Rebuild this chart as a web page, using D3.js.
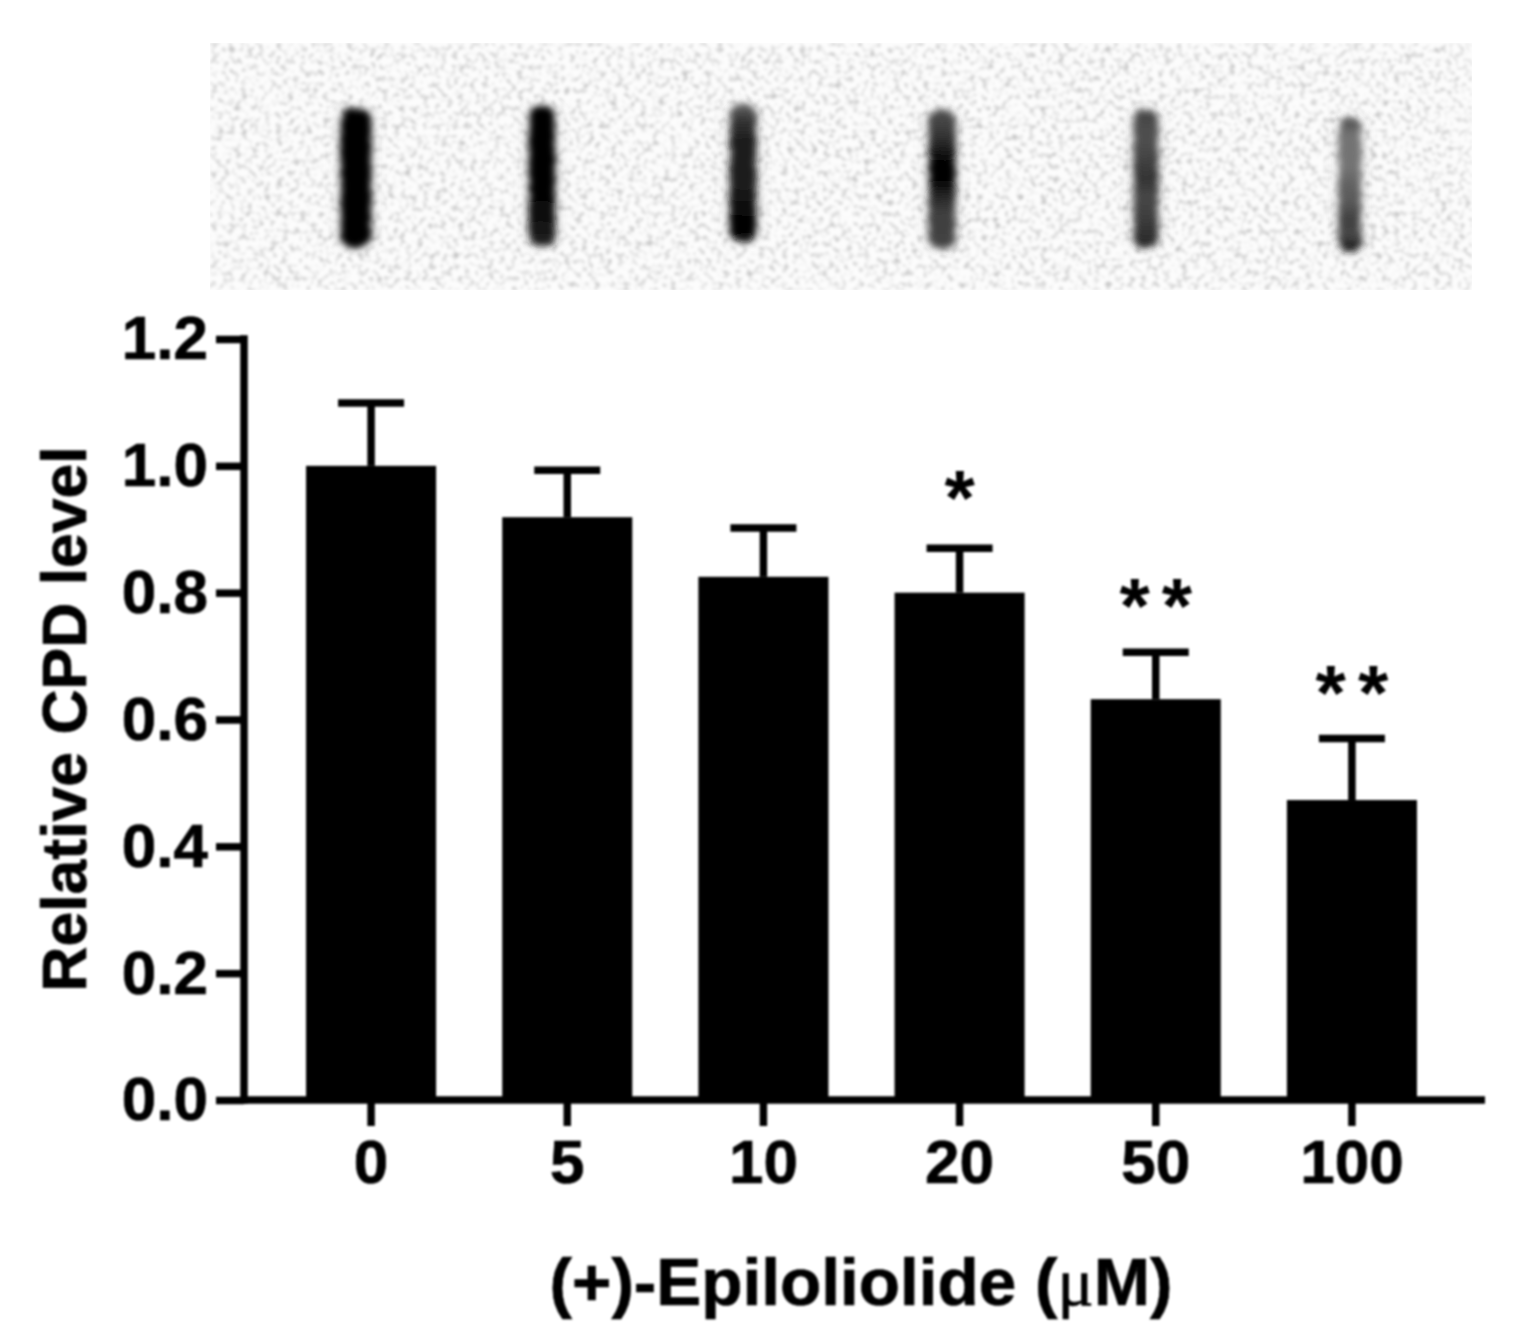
<!DOCTYPE html>
<html><head><meta charset="utf-8">
<script src="https://cdn.jsdelivr.net/npm/d3@7"></script>
<style>html,body{margin:0;padding:0;background:#fff}svg{display:block}</style>
</head><body><svg id="c" width="1519" height="1344"></svg>
<script>
const categories = ["0","5","10","20","50","100"];
const means = [1.0,0.919,0.825,0.80,0.632,0.473];
const errorTops = [1.099,0.993,0.902,0.87,0.706,0.57];
const marks = ["","","","*","**","**"];
const yTicks = [0,0.2,0.4,0.6,0.8,1.0,1.2];
// slot-blot band darkness (0 = white, 1 = black), sampled from top to bottom of each band
const blotDarkness = [
 [1,1,1,1,1,1,1,1,1],
 [1,1,1,1,1,1,.95,.92,.85],
 [.6,.8,.88,.88,.88,.9,.95,1,.95],
 [.7,.75,.85,1,1,.85,.75,.75,.72],
 [.75,.7,.7,.75,.8,.72,.75,.8,.85],
 [.72,.55,.55,.55,.62,.65,.75,.72,.95]
];
const blotCentres = [356,542,743,942,1146,1350];
const blotTops = [108,106,104,110,110,118];
const blotBottoms = [248,246,242,248,248,252];
const blotWidths = [30,26,26,26,24,22];

const svg = d3.select("#c");
const font = "'Liberation Sans',Arial,sans-serif";
const defs = svg.append("defs");

const soft = defs.append("filter").attr("id","soft").attr("x","-2%").attr("y","-2%").attr("width","104%").attr("height","104%");
soft.append("feGaussianBlur").attr("stdDeviation",0.8);

const noise = defs.append("filter").attr("id","noise").attr("x",0).attr("y",0).attr("width","100%").attr("height","100%");
noise.append("feTurbulence").attr("type","fractalNoise").attr("baseFrequency",0.17).attr("numOctaves",2).attr("seed",7).attr("result","t");
noise.append("feColorMatrix").attr("in","t").attr("type","matrix")
  .attr("values","0 0 0 0 0  0 0 0 0 0  0 0 0 0 0  2.4 0 0 0 -1.15").attr("result","a");
noise.append("feGaussianBlur").attr("in","a").attr("stdDeviation",1.6).attr("result","b");
noise.append("feComponentTransfer").attr("in","b").append("feFuncA").attr("type","linear").attr("slope",0.26);

const bandBlur = defs.append("filter").attr("id","bandBlur").attr("x","-150%").attr("y","-20%").attr("width","400%").attr("height","140%");
bandBlur.append("feTurbulence").attr("type","fractalNoise").attr("baseFrequency",0.14).attr("numOctaves",2).attr("seed",3).attr("result","n");
bandBlur.append("feDisplacementMap").attr("in","SourceGraphic").attr("in2","n").attr("scale",6).attr("result","d");
bandBlur.append("feGaussianBlur").attr("in","d").attr("stdDeviation",3.6);

const halo = defs.append("filter").attr("id","halo").attr("x","-200%").attr("y","-20%").attr("width","500%").attr("height","140%");
halo.append("feGaussianBlur").attr("stdDeviation",7);

// Blot panel
const blot = svg.append("g");
blot.append("rect").attr("x",210).attr("y",43).attr("width",1262).attr("height",247).attr("fill","#fcfcfc");
blot.append("rect").attr("x",210).attr("y",43).attr("width",1262).attr("height",247).attr("fill","#000").attr("filter","url(#noise)");
blotDarkness.forEach((vals,i)=>{
  const g = defs.append("linearGradient").attr("id","lane"+i).attr("x1",0).attr("x2",0).attr("y1",0).attr("y2",1);
  vals.forEach((v,k)=>{
    const c = Math.round(255*(1-v));
    g.append("stop").attr("offset",k/(vals.length-1)).attr("stop-color",`rgb(${c},${c},${c})`);
  });
  const w = blotWidths[i], x = blotCentres[i]-w/2, y = blotTops[i], h = blotBottoms[i]-blotTops[i];
  blot.append("rect").attr("x",x-2).attr("y",y+4).attr("width",w+4).attr("height",h-8)
    .attr("fill","#999").attr("opacity",0.35).attr("filter","url(#halo)");
  blot.append("rect").attr("x",x).attr("y",y).attr("width",w).attr("height",h).attr("rx",w/2.4)
    .attr("fill",`url(#lane${i})`).attr("filter","url(#bandBlur)");
});

// Chart
const y = d3.scaleLinear().domain([0,1.2]).range([1100,339]);
const x = d3.scaleBand().domain(categories).range([273,1450]).paddingInner(0.337).paddingOuter(0.1685);
const axisLeftX = 244, axisRightEnd = 1485;
const chart = svg.append("g").attr("filter","url(#soft)");
const sw = 7.5;

chart.selectAll("rect.bar").data(categories).join("rect").attr("class","bar")
  .attr("x",d=>x(d)).attr("width",x.bandwidth())
  .attr("y",(d,i)=>y(means[i])).attr("height",(d,i)=>y(0)-y(means[i])).attr("fill","#000");

const cx = d=>x(d)+x.bandwidth()/2;
chart.selectAll("line.err").data(categories).join("line").attr("class","err")
  .attr("x1",cx).attr("x2",cx).attr("y1",(d,i)=>y(means[i])).attr("y2",(d,i)=>y(errorTops[i]))
  .attr("stroke","#000").attr("stroke-width",sw);
chart.selectAll("line.cap").data(categories).join("line").attr("class","cap")
  .attr("x1",d=>cx(d)-33).attr("x2",d=>cx(d)+33).attr("y1",(d,i)=>y(errorTops[i])).attr("y2",(d,i)=>y(errorTops[i]))
  .attr("stroke","#000").attr("stroke-width",sw);

const yAxis = d3.axisLeft(y).tickValues(yTicks).tickFormat(d3.format(".1f")).tickSize(28).tickSizeOuter(0).tickPadding(8);
const gy = chart.append("g").attr("transform",`translate(${axisLeftX},0)`).call(yAxis);
const xAxis = d3.axisBottom(x).tickSize(26).tickSizeOuter(0).tickPadding(13);
const gx = chart.append("g").attr("transform",`translate(0,${y(0)})`).call(xAxis);
[gy,gx].forEach(g=>{
  g.select(".domain").remove();
  g.selectAll("line").attr("stroke","#000").attr("stroke-width",sw);
  g.selectAll("text").attr("font-family",font).attr("font-weight",700).attr("font-size",62).attr("fill","#000")
    .attr("stroke","#000").attr("stroke-width",0.7);
});
chart.append("line").attr("x1",axisLeftX).attr("x2",axisLeftX).attr("y1",y(1.2)-sw/2).attr("y2",y(0)+sw/2).attr("stroke","#000").attr("stroke-width",sw);
chart.append("line").attr("x1",axisLeftX).attr("x2",axisRightEnd).attr("y1",y(0)).attr("y2",y(0)).attr("stroke","#000").attr("stroke-width",sw);

chart.selectAll("text.mark").data(categories).join("text").attr("class","mark")
  .attr("x",d=>cx(d)+6).attr("y",(d,i)=>y(errorTops[i])-(i===3?23:19))
  .attr("text-anchor","middle").attr("font-family",font).attr("font-weight",700).attr("font-size",78)
  .attr("letter-spacing",12).attr("fill","#000").text((d,i)=>marks[i]);

chart.append("text").attr("transform","translate(86,719) rotate(-90)").attr("text-anchor","middle")
  .attr("font-family",font).attr("font-weight",700).attr("font-size",62.5).attr("fill","#000")
  .attr("stroke","#000").attr("stroke-width",0.7).text("Relative CPD level");

const title = chart.append("text").attr("x",861).attr("y",1305).attr("text-anchor","middle")
  .attr("font-family",font).attr("font-weight",700).attr("font-size",67.5).attr("fill","#000")
  .attr("stroke","#000").attr("stroke-width",0.7);
title.append("tspan").text("(+)-Epiloliolide (");
title.append("tspan").attr("font-family","'Liberation Serif',serif").attr("font-weight",400).text("μ");
title.append("tspan").text("M)");
</script></body></html>
